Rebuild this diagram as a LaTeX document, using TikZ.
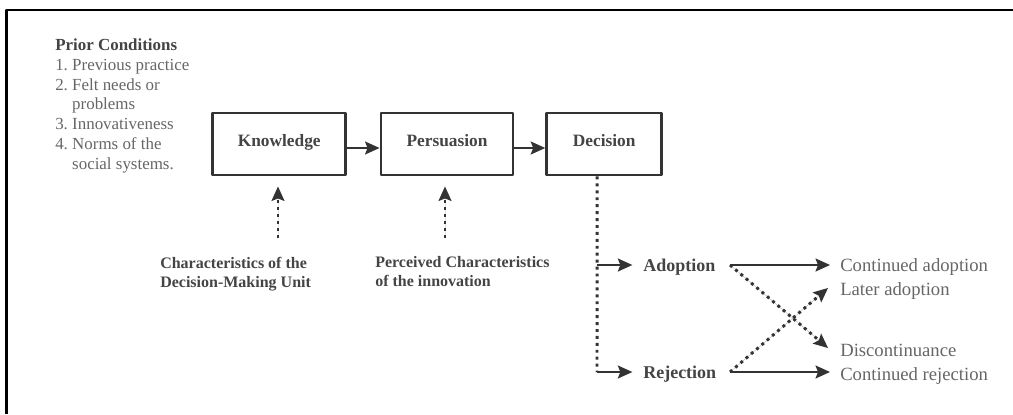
\documentclass[tikz,border=0pt]{standalone}
\usepackage{fontspec}
\setmainfont{Liberation Serif}
\usetikzlibrary{arrows.meta}
\definecolor{inkline}{HTML}{333333}
\definecolor{inkbold}{HTML}{444444}
\definecolor{inktext}{HTML}{666666}
\begin{document}
\begin{tikzpicture}[x=0.75pt, y=-0.75pt, line join=round,
  stage/.style={draw=inkline, line width=2.2pt, minimum height=46.5pt, inner sep=0pt,
    text height=9pt, text depth=5pt, text=inkbold, font=\bfseries\fontsize{13}{15}\selectfont},
  flow/.style={-{Stealth[length=11pt,width=10pt,inset=2pt,line width=0pt]}, draw=inkline, fill=inkline, line width=2.2pt},
  dotflow/.style={flow, dash pattern=on 2.2pt off 3pt},
  boldtext/.style={inner sep=0pt, align=left, text=inkbold, font=\bfseries\fontsize{12}{14.3}\selectfont},
  outtext/.style={inner sep=0pt, text=inktext, font=\fontsize{14}{16}\selectfont}]
\useasboundingbox (0,0) rectangle (1013,414);
% frame
\draw[line width=1.6pt] (1013,10) -- (6.5,10) -- (6.5,414);
% prior conditions
\node[inner sep=0pt, anchor=north west, align=left, text=inktext, font=\fontsize{12.7}{14.85}\selectfont]
  (prior) at (55,38.5)
  {\textcolor{inkbold}{\bfseries Prior Conditions}\\
   1.~Previous practice\\
   2.~Felt needs or\\
   \phantom{2.~}problems\\
   3.~Innovativeness\\
   4.~Norms of the\\
   \phantom{4.~}social systems.};
% stages
\node[stage, minimum width=99.75pt] (know) at (279.2,144) {Knowledge};
\node[stage, minimum width=99pt] (pers) at (447,144) {Persuasion};
\node[stage, minimum width=86.25pt] (dec) at (604.2,144) {Decision};
\draw[flow] ([yshift=-3pt]know.east) -- ([yshift=-3pt]pers.west);
\draw[flow] ([yshift=-3pt]pers.east) -- ([yshift=-3pt]dec.west);
% influences
\node[boldtext, anchor=north west] (unit) at (160,256.5)
  {Characteristics of the\\Decision-Making Unit};
\node[boldtext, anchor=north west] (perc) at (375,256.5)
  {Perceived Characteristics\\of the innovation};
\coordinate (kfoot) at (278,238);
\coordinate (pfoot) at (445,238);
\draw[dotflow, shorten >=7.5pt] (kfoot) -- (kfoot |- know.south);
\draw[dotflow, shorten >=7.5pt] (pfoot) -- (pfoot |- pers.south);
% decision branches
\node[inner sep=0pt, anchor=base west, text=inkbold, font=\bfseries\fontsize{13.5}{16}\selectfont]
  (adopt) at (643,271) {Adoption};
\node[inner sep=0pt, anchor=base west, text=inkbold, font=\bfseries\fontsize{13.5}{16}\selectfont]
  (reject) at (643,378) {Rejection};
\coordinate (dtop) at ([xshift=-5.25pt]dec.south);
\coordinate (abr) at (597,265);
\coordinate (rbr) at (597,372);
\draw[inkline, line width=2.2pt, dash pattern=on 2.2pt off 3pt] (dtop) -- (rbr);
\draw[flow, shorten >=8pt] (abr) -- (abr -| adopt.west);
\draw[flow, shorten >=8pt] (rbr) -- (rbr -| reject.west);
% outcomes
\node[outtext, anchor=base west] (contadopt) at (840,271) {Continued adoption};
\node[outtext, anchor=base west] (later) at (840,295) {Later adoption};
\node[outtext, anchor=base west] (discont) at (840,356) {Discontinuance};
\node[outtext, anchor=base west] (contreject) at (840,380) {Continued rejection};
\coordinate (aout) at (730,265);
\coordinate (rout) at (730,372);
\draw[flow, shorten >=7.5pt] (aout) -- (aout -| contadopt.west);
\draw[flow, shorten >=7.5pt] (rout) -- (rout -| contreject.west);
\draw[dotflow] (aout) -- ([shift={(-12,-8)}]discont.base west);
\draw[dotflow] (rout) -- ([shift={(-12,-7)}]later.base west);
\end{tikzpicture}
\end{document}
